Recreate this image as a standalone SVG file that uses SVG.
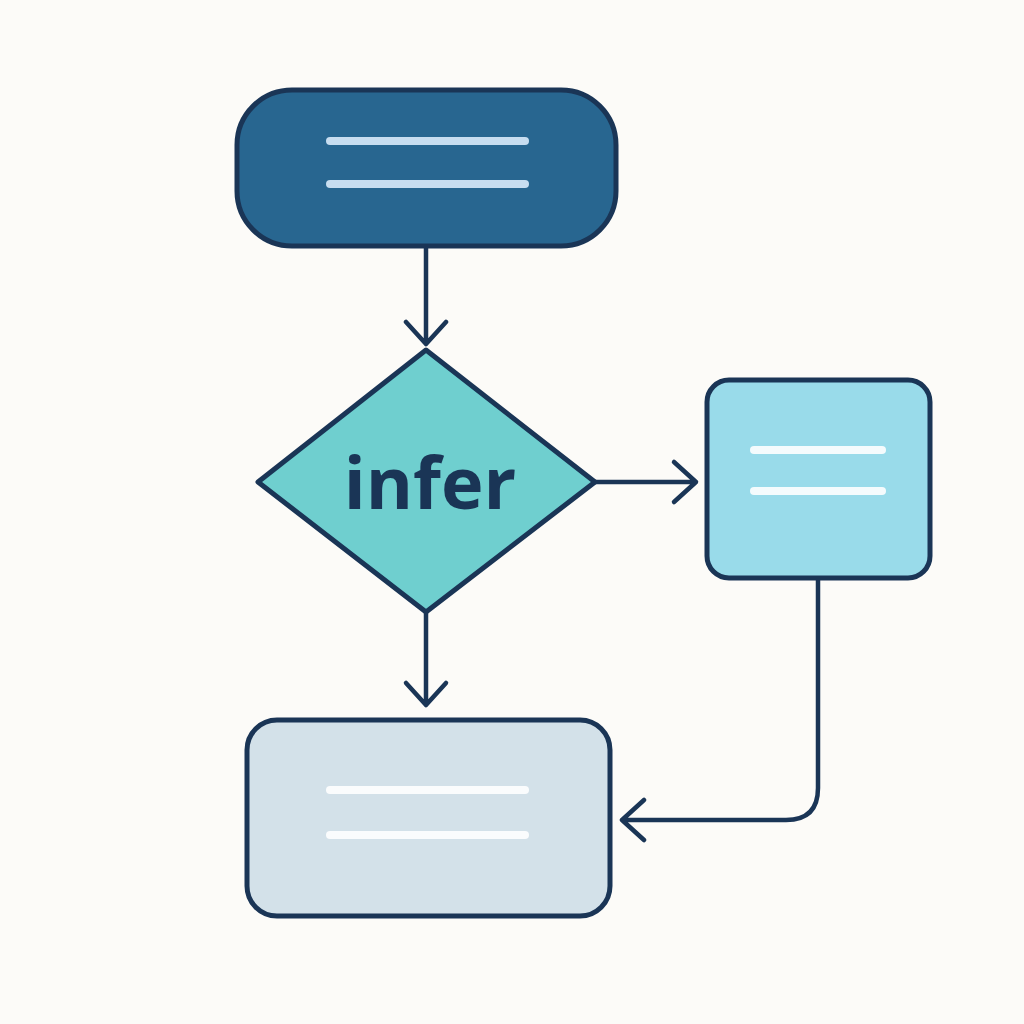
<svg xmlns="http://www.w3.org/2000/svg" width="1024" height="1024" viewBox="0 0 1024 1024">
<style>
.n{stroke:#1a3556;stroke-width:5}
.l{stroke-width:8;stroke-linecap:round}
.c{fill:none;stroke:#1a3556;stroke-width:4.5;stroke-linecap:round;stroke-linejoin:round}
</style>
<rect width="1024" height="1024" fill="#fcfbf8"/>
<g id="connectors">
<path class="c" d="M426 248V344M406 322L426 344L446 322"/>
<path class="c" d="M595 482H696M674 462L696 482L674 502"/>
<path class="c" d="M426 612V705M406 683L426 705L446 683"/>
<path class="c" d="M818 580V788Q818 820 786 820H622M644 800L622 820L644 840"/>
</g>
<g id="start">
<rect class="n" x="237" y="90" width="379" height="156" rx="55" fill="#286690"/>
<line class="l" x1="330" y1="141" x2="525" y2="141" stroke="#c7ddf0"/>
<line class="l" x1="330" y1="184" x2="525" y2="184" stroke="#c7ddf0"/>
</g>
<g id="decision">
<path class="n" d="M426 350L595 482L426 612L258 482Z" fill="#6fcfcf" stroke-linejoin="round"/>
<text x="430" y="509" text-anchor="middle" font-family="'Open Sans', 'Liberation Sans', sans-serif" font-weight="bold" font-size="72" fill="#1a3556">infer</text>
</g>
<g id="right">
<rect class="n" x="707" y="380" width="223" height="198" rx="22" fill="#99dbea"/>
<line class="l" x1="754" y1="450" x2="882" y2="450" stroke="#f4fbfd"/>
<line class="l" x1="754" y1="491" x2="882" y2="491" stroke="#f4fbfd"/>
</g>
<g id="bottom">
<rect class="n" x="247" y="720" width="363" height="196" rx="30" fill="#d3e1e9"/>
<line class="l" x1="330" y1="790" x2="525" y2="790" stroke="#fafcfd"/>
<line class="l" x1="330" y1="835" x2="525" y2="835" stroke="#fafcfd"/>
</g>
</svg>
